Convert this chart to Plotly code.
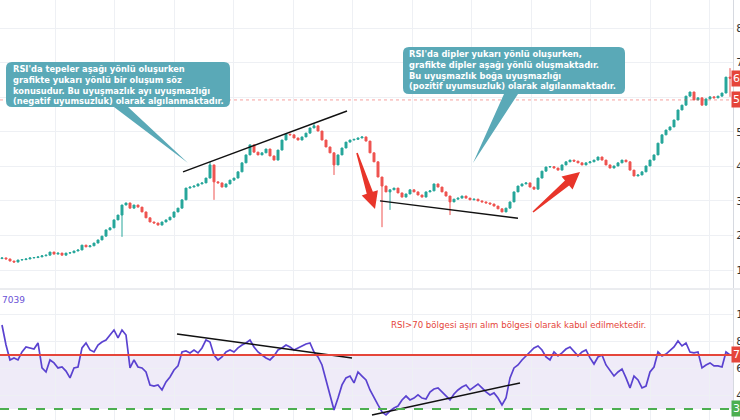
import math
import plotly.graph_objects as go

W, H = 740, 420

# ---------------- data ----------------
first_open = 1.33
closes = [
    1.35, 1.32, 1.26, 1.23, 1.29, 1.30, 1.32, 1.35, 1.36, 1.38,
    1.41, 1.43, 1.52, 1.46, 1.49, 1.43, 1.49, 1.50, 1.55, 1.58,
    1.72, 1.67, 1.70, 1.78, 1.87, 1.98, 2.16, 2.22, 2.45, 2.59,
    2.88, 2.94, 2.79, 2.88, 2.82, 2.68, 2.51, 2.39, 2.36, 2.30,
    2.39, 2.45, 2.53, 2.68, 2.79, 3.03, 3.37, 3.40, 3.43, 3.49,
    3.52, 3.66, 4.04, 3.55, 3.52, 3.40, 3.49, 3.60, 3.66, 3.84,
    4.10, 4.33, 4.62, 4.41, 4.33, 4.39, 4.50, 4.30, 4.18, 4.47,
    4.76, 4.93, 4.91, 4.82, 4.76, 4.85, 4.96, 5.11, 5.17, 5.02,
    4.76, 4.56, 4.39, 4.04, 4.33, 4.53, 4.70, 4.76, 4.78, 4.82,
    4.85, 4.73, 4.39, 4.13, 3.69, 3.43, 3.26, 3.32, 3.37, 3.23,
    3.11, 3.20, 3.32, 3.26, 3.17, 3.11, 3.26, 3.29, 3.49, 3.40,
    3.26, 3.14, 2.97, 3.05, 3.08, 3.14, 3.08, 3.03, 3.05, 3.00,
    2.97, 2.94, 2.91, 2.85, 2.77, 2.68, 2.79, 2.97, 3.26, 3.43,
    3.49, 3.52, 3.40, 3.34, 3.66, 3.86, 3.98, 3.99, 3.95, 3.89,
    4.04, 4.13, 4.18, 4.15, 4.10, 4.04, 4.10, 4.13, 4.18, 4.27,
    4.18, 4.04, 3.95, 4.01, 4.10, 4.18, 4.13, 3.89, 3.72, 3.75,
    3.84, 4.01, 4.18, 4.33, 4.67, 4.91, 5.05, 5.14, 5.34, 5.63,
    5.77, 6.03, 6.15, 5.92, 5.98, 5.77, 5.95, 6.01, 5.98, 6.03,
    6.12, 6.58, 6.55,
]
# notable long wicks (candle index -> price)
wick_high = {52: 4.13, 78: 5.25, 182: 6.84}
wick_low = {30: 1.96, 53: 3.03, 83: 3.75, 95: 2.24, 97: 2.74, 112: 2.59, 182: 6.01}

rsi = [
    92.2, 77.4, 66.3, 67.8, 66.3, 72.2, 75.9, 75.2, 74.4, 78.9,
    60.4, 57.4, 66.3, 64.1, 60.4, 61.1, 58.1, 53.0, 60.4, 61.1,
    75.2, 78.9, 73.7, 72.2, 77.4, 79.6, 81.1, 84.8, 88.5, 82.6,
    88.5, 84.8, 60.4, 66.3, 61.1, 60.4, 57.4, 47.8, 47.0, 47.8,
    44.1, 50.0, 53.7, 58.9, 61.9, 72.2, 73.0, 71.5, 73.7, 71.5,
    75.2, 81.1, 79.6, 70.0, 66.3, 68.5, 72.2, 73.7, 72.2, 75.2,
    77.4, 78.9, 81.1, 75.9, 72.2, 70.0, 67.8, 66.3, 69.3, 73.7,
    75.2, 77.4, 75.9, 73.7, 75.2, 76.7, 78.1, 78.9, 72.2, 68.5,
    62.6, 51.5, 40.4, 29.3, 38.1, 47.8, 53.0, 54.4, 49.3, 57.4,
    54.4, 51.5, 44.1, 38.1, 33.0, 27.8, 25.6, 28.5, 30.7, 32.2,
    36.7, 39.6, 36.7, 38.1, 40.4, 38.1, 37.4, 42.6, 44.8, 45.6,
    42.6, 39.6, 36.7, 41.1, 44.1, 46.3, 47.8, 44.1, 46.3, 48.5,
    45.6, 42.6, 40.4, 41.9, 38.1, 33.0, 38.1, 53.0, 60.4, 62.6,
    66.3, 69.3, 72.2, 75.2, 76.7, 73.7, 68.5, 66.3, 72.2, 69.3,
    71.5, 74.4, 75.9, 72.2, 69.3, 72.2, 73.7, 67.8, 63.3, 68.5,
    70.0, 62.6, 58.9, 54.4, 57.4, 59.6, 53.0, 45.6, 54.4, 51.5,
    45.6, 47.0, 57.4, 61.1, 72.2, 69.3, 70.7, 73.0, 75.9, 80.4,
    76.7, 78.9, 72.2, 71.5, 72.2, 60.4, 62.6, 64.1, 61.9, 61.9,
    61.1, 72.2, 70.0,
]

price_ticks = [1, 2, 3, 4, 5, 6, 7, 8]
price_ticktext = ["1.00000", "2.00000", "3.00000", "4.00000",
                  "5.00000", "", "7.00000", "8.00000"]   # 6 is hidden under the price label
rsi_ticks = [40, 60, 80, 100]
rsi_ticktext = ["40.00", "60.00", "80.00", "100.00"]
last_price = 6.55
ref_price = 5.92
rsi_upper, rsi_lower = 70, 30

# trend lines (candle index, value)
price_line_top = ([45.25, 86.25], [3.84, 5.60])
price_line_bottom = ([94.5, 129.0], [3.00, 2.50])
rsi_line_top = ([43.75, 87.5], [85.6, 67.8])
rsi_line_bottom = ([92.5, 129.5], [25.6, 49.3])

callout1 = ["RSI'da tepeler aşağı yönlü oluşurken",
            "grafikte yukarı yönlü bir oluşum söz",
            "konusudur. Bu uyuşmazlık ayı uyuşmazlığı",
            "(negatif uyumsuzluk) olarak algılanmaktadır."]
callout2 = ["RSI'da dipler yukarı yönlü oluşurken,",
            "grafikte dipler aşağı yönlü oluşmaktadır.",
            "Bu uyuşmazlık boğa uyuşmazlığı",
            "(pozitif uyumsuzluk) olarak algılanmaktadır."]
rsi_note = "RSI>70 bölgesi aşırı alım bölgesi olarak kabul edilmektedir."
rsi_legend_text = "7039"
grid_idx = [13.25, 28.1, 43, 57.9, 72.75, 87.6, 102.5, 117.4, 132.25, 147.1, 162, 176.9]

# ---------------- build ----------------
N = len(closes)
idx = list(range(N))
opens = [first_open] + closes[:-1]
highs = [wick_high.get(i, max(o, c)) for i, (o, c) in enumerate(zip(opens, closes))]
lows = [wick_low.get(i, min(o, c)) for i, (o, c) in enumerate(zip(opens, closes))]

UP, DOWN = "#26a69a", "#ef5350"
PLOT_R = 733 / W


def px(x):
    return x / W


def py(y):
    return 1 - y / H


fig = go.Figure()
fig.add_trace(go.Candlestick(
    x=idx, open=opens, high=highs, low=lows, close=closes,
    increasing=dict(line=dict(color=UP, width=1), fillcolor=UP),
    decreasing=dict(line=dict(color=DOWN, width=1), fillcolor=DOWN),
    whiskerwidth=0, xaxis="x", yaxis="y", hoverinfo="skip",
))
for (lx, ly) in (price_line_top, price_line_bottom):
    fig.add_trace(go.Scatter(x=lx, y=ly, mode="lines", line=dict(color="#111111", width=1.5),
                             xaxis="x", yaxis="y", hoverinfo="skip"))
fig.add_trace(go.Scatter(x=idx, y=rsi, mode="lines", line=dict(color="#5a42d0", width=1.7),
                         xaxis="x2", yaxis="y2", hoverinfo="skip"))
for (lx, ly) in (rsi_line_top, rsi_line_bottom):
    fig.add_trace(go.Scatter(x=lx, y=ly, mode="lines", line=dict(color="#111111", width=1.5),
                             xaxis="x2", yaxis="y2", hoverinfo="skip"))

shapes = []
shapes.append(dict(type="rect", xref="paper", yref="y2", x0=0, x1=PLOT_R, y0=rsi_lower, y1=rsi_upper,
                   fillcolor="rgba(126,87,194,0.12)", line=dict(width=0), layer="below"))
shapes.append(dict(type="line", xref="paper", yref="y2", x0=0, x1=PLOT_R, y0=rsi_upper, y1=rsi_upper,
                   line=dict(color="#e5453a", width=2)))
shapes.append(dict(type="line", xref="paper", yref="y2", x0=0, x1=PLOT_R, y0=rsi_lower, y1=rsi_lower,
                   line=dict(color="#4caf50", width=2, dash="dash")))
shapes.append(dict(type="line", xref="paper", yref="y", x0=0, x1=PLOT_R, y0=ref_price, y1=ref_price,
                   line=dict(color="rgba(239,83,80,0.55)", width=1, dash="dot")))
shapes.append(dict(type="line", xref="paper", yref="paper", x0=0, x1=1, y0=py(289), y1=py(289),
                   line=dict(color="#d6d9e0", width=1)))


def rounded_callout(x0, y0, x1, y1, r, tail_a, tail_b, tip):
    pts = [
        f"M{px(x0 + r)},{py(y0)}",
        f"L{px(x1 - r)},{py(y0)}",
        f"Q{px(x1)},{py(y0)} {px(x1)},{py(y0 + r)}",
        f"L{px(x1)},{py(y1 - r)}",
        f"Q{px(x1)},{py(y1)} {px(x1 - r)},{py(y1)}",
        f"L{px(tail_b)},{py(y1)}",
        f"L{px(tip[0])},{py(tip[1])}",
        f"L{px(tail_a)},{py(y1)}",
        f"L{px(x0 + r)},{py(y1)}",
        f"Q{px(x0)},{py(y1)} {px(x0)},{py(y1 - r)}",
        f"L{px(x0)},{py(y0 + r)}",
        f"Q{px(x0)},{py(y0)} {px(x0 + r)},{py(y0)}",
        "Z",
    ]
    return " ".join(pts)


CALLOUT = "#5aa9b7"
shapes.append(dict(type="path", xref="paper", yref="paper",
                   path=rounded_callout(6, 62, 230, 107, 6, 114, 128, (188, 163)),
                   fillcolor=CALLOUT, line=dict(width=0)))
shapes.append(dict(type="path", xref="paper", yref="paper",
                   path=rounded_callout(403, 47, 625, 94, 6, 504, 518, (473, 163)),
                   fillcolor=CALLOUT, line=dict(width=0)))


def arrow_path(tail, tip, tw0=0.8, tw1=3.2, hl=17, hw=8.5):
    dx, dy = tip[0] - tail[0], tip[1] - tail[1]
    L = math.hypot(dx, dy)
    ux, uy = dx / L, dy / L
    nx, ny = -uy, ux
    bx, by = tip[0] - ux * hl, tip[1] - uy * hl
    p = [
        (tail[0] + nx * tw0, tail[1] + ny * tw0),
        (bx + nx * tw1, by + ny * tw1),
        (bx + nx * hw, by + ny * hw),
        tip,
        (bx - nx * hw, by - ny * hw),
        (bx - nx * tw1, by - ny * tw1),
        (tail[0] - nx * tw0, tail[1] - ny * tw0),
    ]
    return "M" + " L".join(f"{px(a)},{py(b)}" for a, b in p) + " Z"


ARROW = "#e8352a"
shapes.append(dict(type="path", xref="paper", yref="paper", path=arrow_path((357, 153), (375, 209)),
                   fillcolor=ARROW, line=dict(width=0)))
shapes.append(dict(type="path", xref="paper", yref="paper", path=arrow_path((533, 212), (580, 172)),
                   fillcolor=ARROW, line=dict(width=0)))

annotations = []
FONT = "DejaVu Sans"
annotations.append(dict(xref="paper", yref="paper", x=px(12), y=py(85), xanchor="left", yanchor="middle",
                        align="left", showarrow=False, borderpad=0,
                        text="<br>".join(f"<b>{s}</b>" for s in callout1),
                        font=dict(family=FONT, size=8.3, color="white")))
annotations.append(dict(xref="paper", yref="paper", x=px(408), y=py(70.5), xanchor="left", yanchor="middle",
                        align="left", showarrow=False, borderpad=0,
                        text="<br>".join(f"<b>{s}</b>" for s in callout2),
                        font=dict(family=FONT, size=8.3, color="white")))
annotations.append(dict(xref="paper", yref="paper", x=px(389), y=py(325), xanchor="left", yanchor="middle",
                        showarrow=False, text=rsi_note, font=dict(family=FONT, size=8.6, color="#e5453a")))
annotations.append(dict(xref="paper", yref="paper", x=0, y=py(300), xanchor="left", yanchor="middle",
                        showarrow=False, text=rsi_legend_text, font=dict(family=FONT, size=9, color="#6a52d6")))
for val, yref, bg, txt in [(last_price, "y", "#e5453a", f"{last_price:.5f}"),
                           (ref_price, "y", "#e5453a", f"{ref_price:.5f}"),
                           (rsi_upper, "y2", "#e5453a", f"{rsi_upper:.2f}"),
                           (rsi_lower, "y2", "#4caf50", f"{rsi_lower:.2f}")]:
    annotations.append(dict(xref="paper", yref=yref, x=px(731), y=val, xanchor="left", yanchor="middle",
                            showarrow=False, text=txt, bgcolor=bg, borderpad=1,
                            font=dict(family=FONT, size=11, color="white")))

GRID = "#eef0f4"
fig.update_layout(
    width=W, height=H, margin=dict(l=0, r=0, t=0, b=0, autoexpand=False),
    paper_bgcolor="white", plot_bgcolor="white", showlegend=False,
    shapes=shapes, annotations=annotations,
    xaxis=dict(domain=[0, PLOT_R], range=[-0.5, 182.75], anchor="y", showticklabels=False,
               tickvals=grid_idx, showgrid=True, gridcolor=GRID, zeroline=False, automargin=False,
               rangeslider=dict(visible=False), fixedrange=True),
    xaxis2=dict(domain=[0, PLOT_R], range=[-0.5, 182.75], anchor="y2", showticklabels=False,
                tickvals=grid_idx, showgrid=True, gridcolor=GRID, zeroline=False, automargin=False,
                matches="x"),
    yaxis=dict(domain=[py(288), 1], range=[0.48, 8.811], side="right", anchor="x",
               tickvals=price_ticks, ticktext=price_ticktext, showgrid=True, gridcolor=GRID,
               zeroline=False, showline=True, linecolor="#d6d9e0", ticks="", automargin=False,
               tickfont=dict(family=FONT, size=11, color="#333333")),
    yaxis2=dict(domain=[0, py(290)], range=[21.85, 118.1], side="right", anchor="x2",
                tickvals=rsi_ticks, ticktext=rsi_ticktext, showgrid=True, gridcolor=GRID,
                zeroline=False, showline=True, linecolor="#d6d9e0", ticks="", automargin=False,
                tickfont=dict(family=FONT, size=11, color="#333333")),
)

fig.write_html("out.html")
